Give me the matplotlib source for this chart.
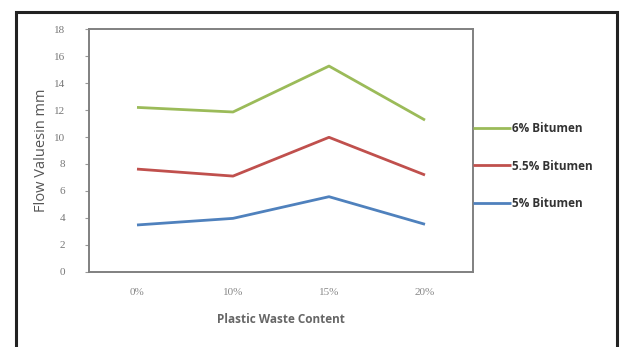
import matplotlib
matplotlib.use("Agg")
import matplotlib.pyplot as plt
from matplotlib.patches import Rectangle

categories = ["0%", "10%", "15%", "20%"]
bitumen_6 = [12.2, 11.86, 15.27, 11.26]
bitumen_55 = [7.62, 7.1, 9.98, 7.18]
bitumen_5 = [3.47, 3.96, 5.57, 3.52]
series_labels = ["6% Bitumen", "5.5% Bitumen", "5% Bitumen"]
colors = ["#9BBB59", "#C0504D", "#4F81BD"]
yticks = [0, 2, 4, 6, 8, 10, 12, 14, 16, 18]

W, H = 621, 347
fig = plt.figure(figsize=(W / 100, H / 100), dpi=100)
fig.patch.set_facecolor("white")

# outer frame
fig.patches.append(Rectangle((15.5 / W, -0.05), (617 - 15.5) / W, 1.05 - 11.5 / H,
                             transform=fig.transFigure, fill=False,
                             edgecolor="#222222", linewidth=2.2, zorder=0))

left, right, top, bottom = 89, 473, 29.3, 271.7
ax = fig.add_axes([left / W, 1 - bottom / H, (right - left) / W, (bottom - top) / H])

x = list(range(len(categories)))
lines = []
for vals, lab, c in zip([bitumen_6, bitumen_55, bitumen_5], series_labels, colors):
    ln, = ax.plot(x, vals, color=c, linewidth=2.0, label=lab, solid_capstyle="butt")
    lines.append(ln)

ax.set_xlim(-0.5, len(categories) - 0.5)
ax.set_ylim(0, 18)
ax.set_yticks(yticks)
ax.set_yticklabels([str(v) for v in yticks], fontsize=8, color="#777777",
                   family="Liberation Serif")
ax.set_xticks(x)
ax.set_xticklabels(categories, fontsize=8, color="#888888", family="Liberation Serif")
ax.tick_params(axis="y", length=3, width=0.8, color="#999999", pad=14)
ax.tick_params(axis="x", length=0, pad=12)
for s in ax.spines.values():
    s.set_color("#808080")
    s.set_linewidth(1.4)

ax.set_ylabel("Flow Valuesin mm", fontsize=10.5, color="#555555", family="Open Sans", labelpad=4)
ax.set_xlabel("Plastic Waste Content", fontsize=8.5, color="#666666", family="Open Sans",
              fontweight="bold", labelpad=11)

leg = ax.legend(handles=lines, loc="center left", bbox_to_anchor=(1.0, 0.436),
                frameon=False, handlelength=3.2, handletextpad=0.1,
                labelspacing=2.1, borderaxespad=0, borderpad=0,
                prop={"family": "Open Sans", "weight": "bold", "size": 8.5})
for t in leg.get_texts():
    t.set_color("#333333")

fig.savefig("out.png", dpi=100)
